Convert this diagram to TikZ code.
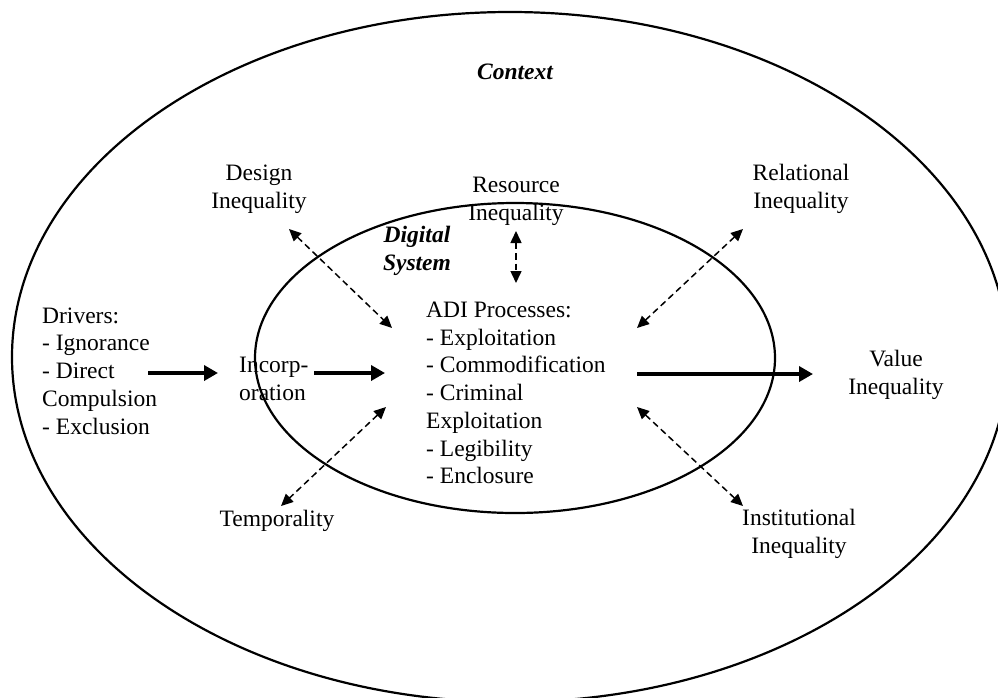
\documentclass[tikz,border=0pt]{standalone}
\usepackage{fontspec}
\setmainfont{Liberation Serif}
\usetikzlibrary{arrows.meta}
\begin{document}
\begin{tikzpicture}[x=1pt,y=-1pt,
  lbl/.style={font=\fontsize{23.5}{27.7}\selectfont, inner sep=0pt, align=center},
  lbll/.style={font=\fontsize{23.5}{27.7}\selectfont, inner sep=0pt, align=left},
  bi/.style={font=\fontsize{23.5}{27.7}\selectfont\bfseries\itshape, inner sep=0pt, align=center},
  ring/.style={line width=2.2pt},
  flow/.style={line width=4pt, -{Triangle[length=14pt,width=15pt]}},
  link/.style={line width=1.5pt, dash pattern=on 6.5pt off 4pt,
    {Triangle[length=12pt,width=11pt]}-{Triangle[length=12pt,width=11pt]}}
]
\useasboundingbox (0,0) rectangle (998,697);
\clip (0,0) rectangle (998,697);
\fill[white] (0,0) rectangle (998,697);

% rings
\draw[ring] (510,357) ellipse [x radius=498, y radius=345];
\draw[ring] (515,358) ellipse [x radius=260, y radius=155];

% labels
\node[bi] (context) at (515,72) {Context};
\node[bi] (digital) at (417,251) {Digital\\System};
\node[lbl] (design) at (259,189) {Design\\Inequality};
\node[lbl] (resource) at (516,201) {Resource\\Inequality};
\node[lbl] (relational) at (801,189) {Relational\\Inequality};
\node[lbll, anchor=west] (drivers) at (42,371) {Drivers:\\- Ignorance\\- Direct\\Compulsion\\- Exclusion};
\node[lbll, anchor=west] (incorp) at (239,379) {Incorp-\\oration};
\node[lbll, anchor=west] (adi) at (426,393) {ADI Processes:\\- Exploitation\\- Commodification\\- Criminal\\Exploitation\\- Legibility\\- Enclosure};
\node[lbl] (value) at (896,375) {Value\\Inequality};
\node[lbl] (temporality) at (277,521) {Temporality};
\node[lbl] (institutional) at (799,534) {Institutional\\Inequality};

% connector end points
\coordinate (drvA) at (148,373);
\coordinate (drvB) at (218,373);
\coordinate (incA) at (314,373);
\coordinate (incB) at (385,373);
\coordinate (valA) at (637,374);
\coordinate (valB) at (813,374);
\coordinate (desA) at (289,229);
\coordinate (desB) at (392,328);
\coordinate (resA) at (516,231);
\coordinate (resB) at (516,283);
\coordinate (relA) at (743,229);
\coordinate (relB) at (637,328);
\coordinate (temA) at (386,407);
\coordinate (temB) at (281,506);
\coordinate (insA) at (637,407);
\coordinate (insB) at (743,506);

% flows
\draw[flow] (drvA) -- (drvB);
\draw[flow] (incA) -- (incB);
\draw[flow] (valA) -- (valB);

% dashed two-way links
\draw[link] (desA) -- (desB);
\draw[link] (resA) -- (resB);
\draw[link] (relA) -- (relB);
\draw[link] (temA) -- (temB);
\draw[link] (insA) -- (insB);
\end{tikzpicture}
\end{document}
